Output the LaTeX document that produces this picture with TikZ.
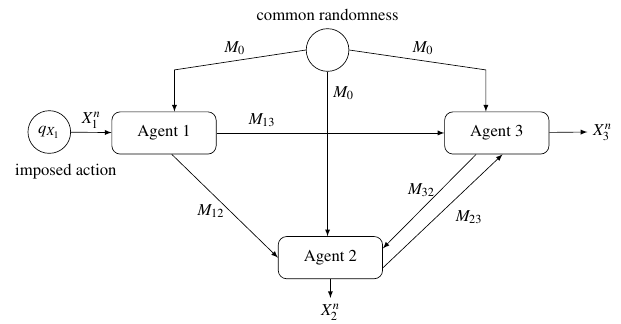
\documentclass[tikz,border=0pt]{standalone}
\usepackage[T1]{fontenc}
\usepackage{amsmath}
\usepackage{mathptmx}
\usepackage{tikz}
\usetikzlibrary{shapes,arrows,positioning}
\tikzset{
	agent/.style    = {draw, rectangle, rounded corners = 5pt, minimum height = 0.89cm,
		minimum width = 2.2cm},
	src/.style      = {draw, circle, minimum size = 0.9cm, inner sep = 0pt}
}
\newcommand{\msg}[1]{$M_{#1}$}

\begin{document}
\begin{tikzpicture}[auto, node distance=0.6cm, >=latex]
\useasboundingbox (0,0) rectangle (13.10,6.815);
\draw
% Drawing the agents and the sources
node at (6.91,5.76)[src] (cr) {}
node at (1.04,4.03)[src] (q) {$q_{X_1}$}
node at (3.46,4.01)[agent] (a1) {Agent 1}
node at (10.48,4.01)[agent] (a3) {Agent 3}
node at (6.97,1.38)[agent] (a2) {Agent 2};
\node[above=1pt of cr] (crtext) {common randomness};
\node at (1.39,3.19) (qtext) {imposed action};

\coordinate (k1) at (3.68,5.34);
\coordinate (k3) at (10.25,5.34);
\coordinate (x3) at (12.39,4.03);
\coordinate (x2) at (6.97,0.53);

% common randomness
\draw[->](cr.west) -- node[above, pos=0.54] (m0a) {\msg{0}} (k1) -- (k1 |- a1.north);
\draw[->](cr.east) -- node[above, pos=0.54] (m0c) {\msg{0}} (k3) -- (k3 |- a3.north);
\draw[->](cr) -- node[pos=0.13] (m0b) {\msg{0}} (cr |- a2.north);

% messages between agents
\draw[->](q) -- node[inner sep=2pt] (x1n) {$X_1^n$} (a1);
\draw[->](a1) -- node[pos=0.2] (m13) {\msg{13}} (a3);
\draw[->](a1.290) -- node[left, pos=0.55] (m12) {\msg{12}} (a2.west);
\draw[->](a3.226) -- node[left, pos=0.38] (m32) {\msg{32}} (a2.10);
\draw[->](a2.349) -- node[below right, pos=0.56] (m23) {\msg{23}} (a3.285);

% outputs
\draw[->](a3) -- (x3);
\draw[->](a2) -- (x2);
\node[right] at (x3) (x3n) {$X_3^n$};
\node[below] at (x2) (x2n) {$X_2^n$};
\end{tikzpicture}
\end{document}
